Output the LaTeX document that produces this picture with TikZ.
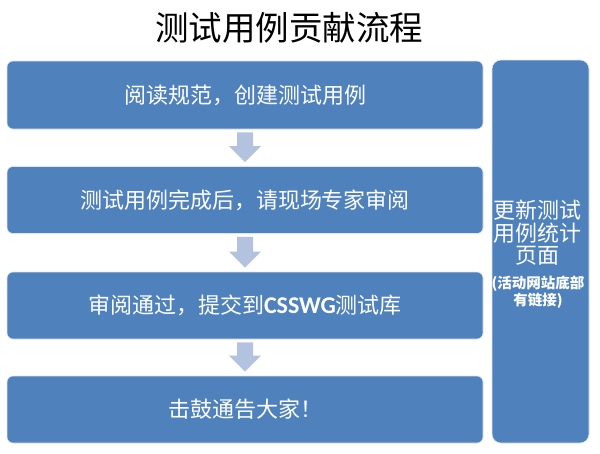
\documentclass[tikz,border=0pt]{standalone}
\usepackage{fontspec}
\setmainfont{Noto Sans CJK SC}
\newfontfamily\latinfont{Carlito}
\usetikzlibrary{positioning,calc}
\definecolor{boxblue}{HTML}{4F81BD}
\definecolor{arrowblue}{HTML}{B3C3DF}
\begin{document}
\begin{tikzpicture}[x=1pt,y=-1pt,
  stepbox/.style={draw=white!80!boxblue,line width=0.6pt,fill=boxblue,rounded corners=6pt,text=white,font=\fontsize{22}{24}\selectfont,inner sep=0pt,minimum width=476pt,minimum height=67pt},
  sidebox/.style={draw=white!80!boxblue,line width=0.6pt,fill=boxblue,rounded corners=9pt,text=white,inner sep=0pt},
  downarrow/.style={fill=arrowblue,draw=none}]
\useasboundingbox (0,0) rectangle (600,453);
\node (title) at (289,28) {\fontsize{33.5}{36}\selectfont 测试用例贡献流程};
\node[stepbox,minimum height=68pt] (s1) at (245,95) {阅读规范，创建测试用例};
\node[stepbox] (s2) at (245,200) {测试用例完成后，请现场专家审阅};
\node[stepbox] (s3) at (245,305.5) {审阅通过，提交到{\latinfont\bfseries\fontsize{24}{24}\selectfont CSSWG}测试库};
\node[stepbox] (s4) at (245,409.5) {击鼓通告大家！};
\node[sidebox,minimum width=97pt,minimum height=383pt] (side) at (540.5,251.5) {};
\node[text=white,align=center,font=\fontsize{22}{22.5}\selectfont] (sidet) at (537,233) {更新测试\\用例统计\\页面};
\node[text=white,align=center,font=\fontsize{14.5}{13.5}\selectfont\bfseries] (sides) at (538,292) {(活动网站底部\\有链接)};
\foreach \a/\b in {s1/s2,s2/s3,s3/s4}{
  \path (\a.south) ++(0,3) coordinate (t\a);
  \path (\b.north) ++(0,-4) coordinate (h\a);
  \fill[downarrow] ($(t\a)+(-8,0)$) -- ($(t\a)+(8,0)$) -- ($(h\a)+(8,-16)$) -- ($(h\a)+(16,-16)$) -- (h\a) -- ($(h\a)+(-16,-16)$) -- ($(h\a)+(-8,-16)$) -- cycle;
}
\end{tikzpicture}
\end{document}
